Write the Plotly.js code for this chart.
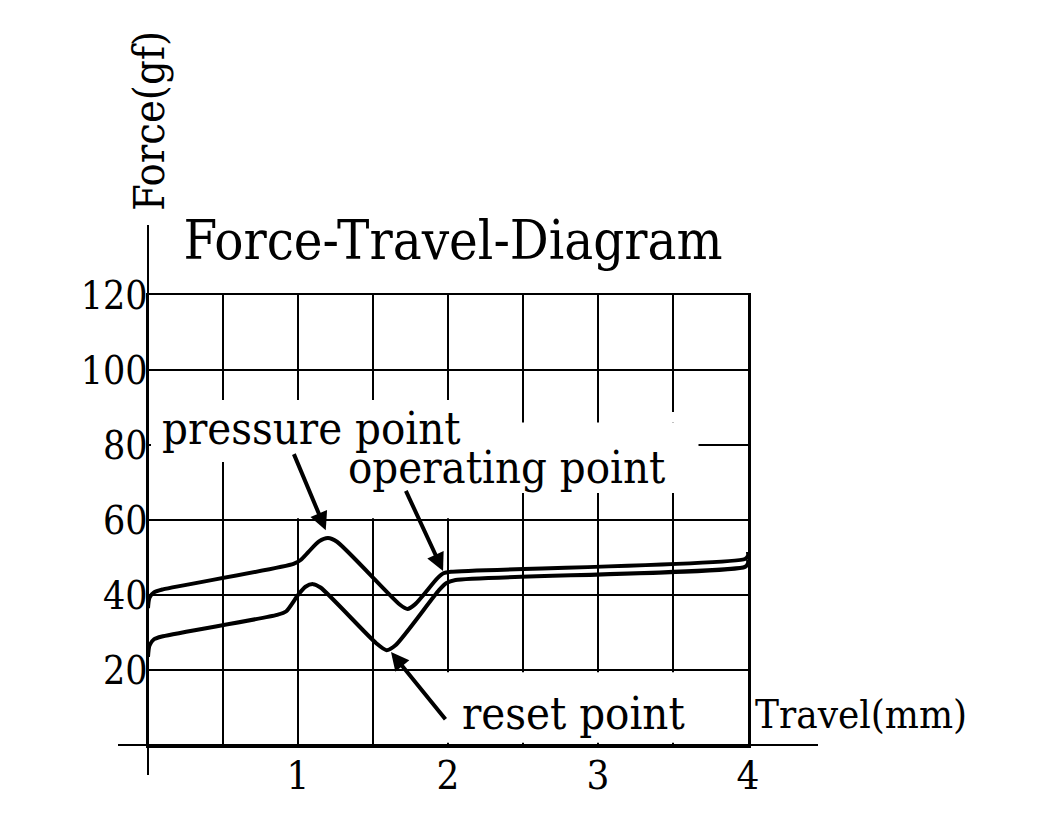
<!DOCTYPE html>
<html><head><meta charset="utf-8">
<script src="https://cdn.plot.ly/plotly-3.0.1.min.js"></script>
<style>body{margin:0;background:#fff}#chart{width:1040px;height:825px}</style>
</head><body><div id="chart"></div>
<script>
// Force-travel curves (travel in mm, force in gf)
const pressX = [0, 0.01, 0.04, 0.10, 0.97, 1.02, 1.07, 1.14, 1.20, 1.26, 1.68, 1.73, 1.78, 1.93, 1.97, 2.02, 3.98, 4.0, 4.0];
const pressY = [36.5, 39.3, 40.7, 41.5, 48.3, 49.4, 51.5, 54.3, 55.2, 54.2, 37.4, 36.3, 37.5, 44.5, 45.8, 46.2, 49.6, 50.5, 51.5];
const resetX = [0, 0.01, 0.04, 0.10, 0.86, 0.92, 1.00, 1.05, 1.10, 1.15, 1.52, 1.59, 1.65, 1.94, 1.99, 2.05, 3.98, 4.0, 4.0];
const resetY = [23.5, 26.5, 28.2, 29.0, 34.7, 35.6, 40.0, 42.2, 42.9, 42.0, 27.2, 25.3, 26.6, 41.3, 43.2, 44.0, 47.5, 48.5, 49.5];

const xTickVals = [0.5, 1, 1.5, 2, 2.5, 3, 3.5, 4];
const xTickText = ['', '1', '', '2', '', '3', '', '4'];
const yTickVals = [20, 40, 60, 80, 100, 120];
const yTickText = ['20', '40', '60', '80', '100', '120'];

const titleText = 'Force-Travel-Diagram';
const xTitle = 'Travel(mm)';
const yTitle = 'Force(gf)';
const labels = ['pressure point', 'operating point', 'reset point'];
const labelX = [1.093, 2.387, 2.837];
const labelY = [84.3, 74.0, 8.3];
const arrowTipX = [1.185, 1.967, 1.62];
const arrowTipY = [57.3, 46.4, 24.8];
const arrowTailX = [0.967, 1.713, 1.993];
const arrowTailY = [78.1, 68.3, 6.4];

// masks hiding grid behind labels: [x0, x1, y0, y1]
const masks = [[0.02, 1.75, 75.5, 92], [0.8, 2.3, 60.5, 92], [2.3, 3.67, 67.2, 86], [3.3, 3.67, 86, 88.8], [1.7, 3.8, 0.6, 19.4]];

const FONT = '"DejaVu Serif Condensed", "DejaVu Serif", serif';
const W = 1040, H = 825;
// pixel geometry
const px = {x0: 148, x4: 748, y0: 745, y120: 295, axL: 118, axR: 818, axT: 225, axB: 775};
const ux = (px.x4 - px.x0) / 4, uy = (px.y0 - px.y120) / 120;

const traces = [
  {x: pressX, y: pressY, mode: 'lines', line: {color: '#000', width: 4, shape: 'spline', smoothing: 0.7}, hoverinfo: 'skip', showlegend: false},
  {x: resetX, y: resetY, mode: 'lines', line: {color: '#000', width: 4, shape: 'spline', smoothing: 0.7}, hoverinfo: 'skip', showlegend: false},
  {x: [], y: [], xaxis: 'x2', yaxis: 'y2', mode: 'lines', hoverinfo: 'skip', showlegend: false}
];

const annotations = [];
labels.forEach((t, i) => {
  annotations.push({text: t, x: labelX[i], y: labelY[i], xref: 'x', yref: 'y', showarrow: false,
    font: {family: FONT, size: 45, color: '#000'}, xanchor: 'center', yanchor: 'middle'});
  annotations.push({text: ' ', x: arrowTipX[i], y: arrowTipY[i], xref: 'x', yref: 'y',
    ax: arrowTailX[i], ay: arrowTailY[i], axref: 'x', ayref: 'y', showarrow: true,
    arrowhead: 2, arrowsize: 0.9, arrowwidth: 4, arrowcolor: '#000', font: {size: 1}, standoff: 0});
});
annotations.push({text: xTitle, x: 861 / W, y: (H - 714) / H, xref: 'paper', yref: 'paper', showarrow: false,
  font: {family: FONT, size: 40, color: '#000'}, xanchor: 'center', yanchor: 'middle'});
annotations.push({text: yTitle, x: 149 / W, y: (H - 121) / H, xref: 'paper', yref: 'paper', showarrow: false,
  textangle: -90, font: {family: FONT, size: 43, color: '#000'}, xanchor: 'center', yanchor: 'middle'});

const shapes = masks.map(m => ({type: 'rect', xref: 'x', yref: 'y', x0: m[0], x1: m[1], y0: m[2], y1: m[3],
  fillcolor: '#fff', line: {width: 0}, layer: 'above'}));

const layout = {
  width: W, height: H, margin: {l: 0, r: 0, t: 0, b: 0},
  paper_bgcolor: '#fff', plot_bgcolor: 'rgba(0,0,0,0)',
  title: {text: titleText, font: {family: FONT, size: 54, color: '#000'}, x: 453 / W, xanchor: 'center', y: (H - 240) / H, yanchor: 'middle', yref: 'container'},
  xaxis: {domain: [px.x0 / W, px.x4 / W], range: [0, 4], tickvals: xTickVals, ticktext: xTickText, ticks: '',
    showgrid: true, gridcolor: '#000', gridwidth: 2.5, showline: true, mirror: true, linecolor: '#000', linewidth: 2.5,
    zeroline: false, tickfont: {family: FONT, size: 40, color: '#000'}, ticklabelstandoff: -7, fixedrange: true},
  yaxis: {domain: [(H - px.y0) / H, (H - px.y120) / H], range: [0, 120], tickvals: yTickVals, ticktext: yTickText, ticks: '',
    showgrid: true, gridcolor: '#000', gridwidth: 2.5, showline: true, mirror: true, linecolor: '#000', linewidth: 2.5,
    zeroline: false, tickfont: {family: FONT, size: 39, color: '#000'}, ticklabelstandoff: -10, fixedrange: true},
  xaxis2: {domain: [px.axL / W, px.axR / W], range: [(px.axL - px.x0) / ux, (px.axR - px.x0) / ux], anchor: 'y2',
    showgrid: false, showticklabels: false, ticks: '', showline: false, zeroline: true, zerolinecolor: '#000', zerolinewidth: 2.5, fixedrange: true},
  yaxis2: {domain: [(H - px.axB) / H, (H - px.axT) / H], range: [(px.y0 - px.axB) / uy, (px.y0 - px.axT) / uy], anchor: 'x2',
    showgrid: false, showticklabels: false, ticks: '', showline: false, zeroline: true, zerolinecolor: '#000', zerolinewidth: 2.5, fixedrange: true},
  annotations: annotations,
  shapes: shapes
};

Plotly.newPlot('chart', traces, layout, {displayModeBar: false, staticPlot: true});
</script>
</body></html>
